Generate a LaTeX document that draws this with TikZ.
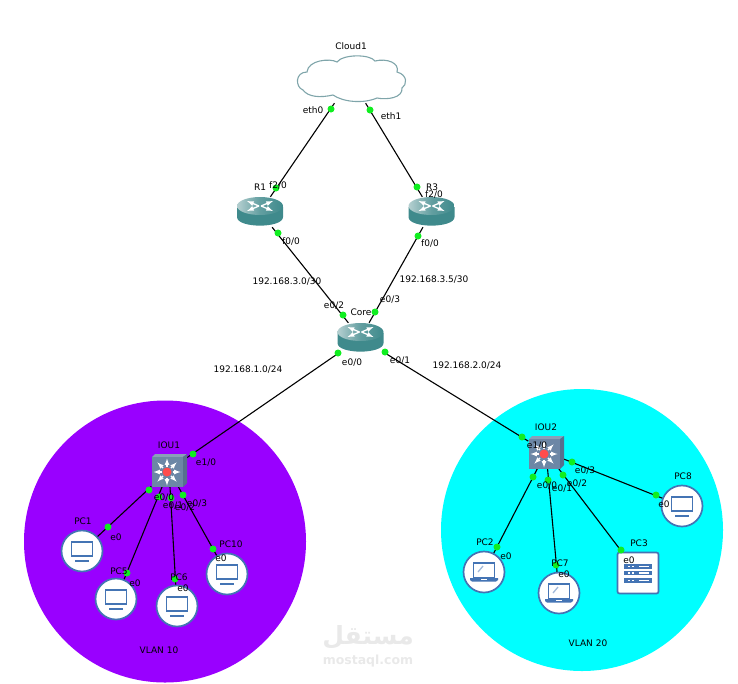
\documentclass[tikz,border=0pt]{standalone}
\usepackage{fontspec}
\usepackage{tikz}
\setmainfont{DejaVu Sans}
\newfontfamily\arabicfont[Script=Arabic]{DejaVu Sans}
\TeXXeTstate=1
\usetikzlibrary{shapes,arrows,positioning}

\definecolor{vlanpurple}{HTML}{9900FF}
\definecolor{vlancyan}{HTML}{00FFFF}
\definecolor{routerteal}{HTML}{3F8A8C}
\definecolor{routerlight}{HTML}{B5CFD0}
\definecolor{cloudline}{HTML}{7FA5AA}
\definecolor{switchblue}{HTML}{6C87A6}
\definecolor{switchdark}{HTML}{56708E}
\definecolor{iconblue}{HTML}{4474B4}
\definecolor{portgreen}{HTML}{10EE20}
\definecolor{markgray}{HTML}{E9E9E9}

\tikzset{
  cloudicon/.pic={
    \draw [cloudline, fill=white, line width=1.1pt] (-44,-7)
      .. controls (-43,-19) and (-21,-21) .. (-14,-17)
      .. controls (-8,-25) and (19,-25) .. (24,-18)
      .. controls (36,-21) and (49,-16) .. (46,-7)
      .. controls (57,-4) and (56,6) .. (51,9)
      .. controls (52,19) and (36,21) .. (26,19)
      .. controls (12,25) and (-8,23) .. (-18,16)
      .. controls (-31,19) and (-43,18) .. (-48,11)
      .. controls (-56,8) and (-56,-7) .. cycle;
  },
  routericon/.pic={
    \fill [routerteal] (-23,-5) -- (-23,5) .. controls (-23,16.5) and (23,16.5) .. (23,5) -- (23,-5) -- cycle;
    \shade [left color=routerlight, right color=routerteal, middle color=routerteal!70!routerlight] (0,-6) ellipse [x radius=23, y radius=9];
    \draw [white, line width=1.3pt, -latex] (-1,-6) -- (-13,-11);
    \draw [white, line width=1.3pt, -latex] (1,-6) -- (13,-1);
    \draw [white, line width=1.3pt, -latex] (-1,-6) -- (-13,-1);
    \draw [white, line width=1.3pt, -latex] (1,-6) -- (13,-11);
  },
  switchicon/.pic={
    \fill [switchblue!80!white] (-17,-13) -- (-14,-16) -- (18,-16) -- (14,-13) -- cycle;
    \fill [switchdark] (14,-13) -- (18,-16) -- (18,13) -- (14,17) -- cycle;
    \fill [switchblue] (-17,-13) rectangle (14,17);
    \foreach \a in {0,45,...,315}
      \draw [white, line width=1.2pt, -latex] (-2,2) ++(\a:5.5) -- ++(\a:8);
    \fill [red!70!white] (-2,2) circle (4.5);
  },
  pcicon/.pic={
    \draw [iconblue, line width=1.2pt] (-10.5,-9) rectangle (10.5,5);
    \draw [iconblue, line width=1.3pt] (-7,10) -- (7,10);
  },
  laptopicon/.pic={
    \draw [iconblue, line width=1.2pt, fill=white] (-10.5,-9) rectangle (10.5,6);
    \draw [iconblue!50!white, line width=1.3pt] (-6,0) -- (-1,-6);
    \fill [iconblue] (-14,6) -- (14,6) -- (14,8) -- (12,9.5) -- (-12,9.5) -- (-14,8) -- cycle;
    \fill [white] (-3,6.5) rectangle (3,7.5);
  },
  servericon/.pic={
    \foreach \y in {-9,-2.4,5} {
      \fill [iconblue] (-14,\y) rectangle (14,\y+4.8);
      \fill [white] (-10,\y+1.6) rectangle (-8,\y+3.2);
      \fill [white] (-6,\y+1.6) rectangle (-4,\y+3.2);
      \fill [white] (1,\y+1.6) rectangle (11,\y+3.2);
    }
  }
}

\begin{document}
\begin{tikzpicture}[x=1pt, y=-1pt, auto]
    % Define block styles
    \tikzstyle{cloudbox} = [rectangle, minimum width=110pt, minimum height=48pt, inner sep=0pt]
    \tikzstyle{routerbox} = [rectangle, minimum width=46pt, minimum height=30pt, inner sep=0pt]
    \tikzstyle{switchbox} = [rectangle, minimum width=35pt, minimum height=33pt, inner sep=0pt]
    \tikzstyle{pcbox} = [circle, draw=iconblue, fill=white, line width=1.7pt, minimum size=41pt, inner sep=0pt]
    \tikzstyle{serverbox} = [rectangle, draw=iconblue, fill=white, line width=1.7pt, rounded corners=2pt, minimum size=41pt, inner sep=0pt]
    \tikzstyle{vlan} = [circle, minimum size=282pt, inner sep=0pt]
    \tikzstyle{link} = [draw, black, line width=1.1pt]
    \tikzstyle{port} = [circle, fill=portgreen, minimum size=7pt, inner sep=0pt]
    \tikzstyle{txt} = [font=\fontsize{9}{10}\selectfont, inner sep=0pt, text=black]

    \useasboundingbox (0,0) rectangle (738,683);

    % VLAN areas
    \node [vlan, fill=vlanpurple] (VLAN_10) at (165,541.5) {};
    \node [vlan, fill=vlancyan] (VLAN_20) at (582,530) {};

    % Watermark
    \node [font=\arabicfont\fontsize{25}{28}\selectfont\bfseries, text=markgray, inner sep=0pt] (Mark_Arabic) at (368,637) {\beginR مستقل\endR};
    \node [font=\fontsize{12.5}{14}\selectfont\bfseries, text=markgray, inner sep=0pt] (Mark_Latin) at (368,661) {mostaql.com};

    % Nodes
    \node [cloudbox] (Cloud1) at (351,79) {};
    \node [routerbox] (R1) at (260,212) {};
    \node [routerbox] (R3) at (431.5,212) {};
    \node [routerbox] (Core) at (360.5,338) {};
    \node [switchbox] (IOU1) at (169,470) {};
    \node [switchbox] (IOU2) at (546,452) {};
    \node [pcbox] (PC1) at (82,551) {};
    \node [pcbox] (PC5) at (116,599) {};
    \node [pcbox] (PC6) at (177,606) {};
    \node [pcbox] (PC10) at (227,574) {};
    \node [pcbox] (PC2) at (484,572) {};
    \node [pcbox] (PC7) at (559,593) {};
    \node [pcbox] (PC8) at (682,506) {};
    \node [serverbox] (PC3) at (638,573) {};

    % Lines
    \path [link] (Cloud1) -- (R1);
    \path [link] (Cloud1) -- (R3);
    \path [link] (R1) -- (Core);
    \path [link] (R3) -- (Core);
    \path [link] (Core) -- (IOU1);
    \path [link] (Core) -- (IOU2);
    \path [link] (IOU1) -- (PC1);
    \path [link] (IOU1) -- (PC5);
    \path [link] (IOU1) -- (PC6);
    \path [link] (IOU1) -- (PC10);
    \path [link] (IOU2) -- (PC2);
    \path [link] (IOU2) -- (PC7);
    \path [link] (IOU2) -- (PC3);
    \path [link] (IOU2) -- (PC8);

    % Icons
    \pic at (Cloud1) {cloudicon};
    \pic at (R1) {routericon};
    \pic at (R3) {routericon};
    \pic at (Core) {routericon};
    \pic at (IOU1) {switchicon};
    \pic at (IOU2) {switchicon};
    \pic at (PC1) {pcicon};
    \pic at (PC5) {pcicon};
    \pic at (PC6) {pcicon};
    \pic at (PC10) {pcicon};
    \pic at (PC8) {pcicon};
    \pic at (PC2) {laptopicon};
    \pic at (PC7) {laptopicon};
    \pic at (PC3) {servericon};

    % Ports
    \node [port] (Cloud_eth0) at (331,109) {};
    \node [port] (Cloud_eth1) at (370,110) {};
    \node [port] (R1_f2) at (276,188) {};
    \node [port] (R1_f0) at (278,233) {};
    \node [port] (R3_f2) at (417,187) {};
    \node [port] (R3_f0) at (418,236) {};
    \node [port] (Core_e2) at (343,315) {};
    \node [port] (Core_e3) at (375,312) {};
    \node [port] (Core_e0) at (338,353) {};
    \node [port] (Core_e1) at (385,352) {};
    \node [port] (IOU1_e10) at (193,454) {};
    \node [port] (IOU1_e0) at (149,490) {};
    \node [port] (IOU1_e2) at (159,497) {};
    \node [port] (IOU1_e1) at (171,498) {};
    \node [port] (IOU1_e3) at (183,495) {};
    \node [port] (PC1_e0) at (108,527) {};
    \node [port] (PC5_e0) at (127,573) {};
    \node [port] (PC6_e0) at (175,579) {};
    \node [port] (PC10_e0) at (213,549) {};
    \node [port] (IOU2_e10) at (522,437) {};
    \node [port] (IOU2_e0) at (533,477) {};
    \node [port] (IOU2_e1) at (548,480) {};
    \node [port] (IOU2_e2) at (563,475) {};
    \node [port] (IOU2_e3) at (572,462) {};
    \node [port] (PC2_e0) at (497,547) {};
    \node [port] (PC7_e0) at (556,565) {};
    \node [port] (PC3_e0) at (621,550) {};
    \node [port] (PC8_e0) at (656,495) {};

    % Device names
    \node [txt] (Cloud1_name) at (351,46) {Cloud1};
    \node [txt] (R1_name) at (260,187) {R1};
    \node [txt] (R3_name) at (432,187) {R3};
    \node [txt] (Core_name) at (361,312.5) {Core};
    \node [txt] (IOU1_name) at (169,445) {IOU1};
    \node [txt] (IOU2_name) at (546,427) {IOU2};
    \node [txt] (PC1_name) at (83,521) {PC1};
    \node [txt] (PC5_name) at (119,571) {PC5};
    \node [txt] (PC6_name) at (179,577) {PC6};
    \node [txt] (PC10_name) at (231,544) {PC10};
    \node [txt] (PC2_name) at (485,542) {PC2};
    \node [txt] (PC7_name) at (560,563) {PC7};
    \node [txt] (PC3_name) at (639,543) {PC3};
    \node [txt] (PC8_name) at (683,476) {PC8};
    \node [txt] (VLAN_10_name) at (159,650) {VLAN 10};
    \node [txt] (VLAN_20_name) at (588,643) {VLAN 20};

    % Subnets
    \node [txt] (Net_30a) at (287,282) {192.168.3.0/30};
    \node [txt] (Net_30b) at (434,280) {192.168.3.5/30};
    \node [txt] (Net_24a) at (248,370) {192.168.1.0/24};
    \node [txt] (Net_24b) at (467,366) {192.168.2.0/24};

    % Port names
    \node [txt] (Cloud_eth0_name) at (313,110) {eth0};
    \node [txt] (Cloud_eth1_name) at (391,116) {eth1};
    \node [txt] (R1_f2_name) at (278,185) {f2/0};
    \node [txt] (R1_f0_name) at (291,241) {f0/0};
    \node [txt] (R3_f2_name) at (434,194) {f2/0};
    \node [txt] (R3_f0_name) at (430,243) {f0/0};
    \node [txt] (Core_e2_name) at (334,306) {e0/2};
    \node [txt] (Core_e3_name) at (390,300) {e0/3};
    \node [txt] (Core_e0_name) at (352,363) {e0/0};
    \node [txt] (Core_e1_name) at (400,361) {e0/1};
    \node [txt] (IOU1_e10_name) at (206,463) {e1/0};
    \node [txt] (IOU1_e0_name) at (164,498) {e0/0};
    \node [txt] (IOU1_e1_name) at (173,506) {e0/1};
    \node [txt] (IOU1_e2_name) at (185,508) {e0/2};
    \node [txt] (IOU1_e3_name) at (197,504) {e0/3};
    \node [txt] (PC1_e0_name) at (116,537) {e0};
    \node [txt] (PC5_e0_name) at (135,583) {e0};
    \node [txt] (PC6_e0_name) at (183,588) {e0};
    \node [txt] (PC10_e0_name) at (221,558) {e0};
    \node [txt] (IOU2_e10_name) at (537,446) {e1/0};
    \node [txt] (IOU2_e0_name) at (547,486) {e0/0};
    \node [txt] (IOU2_e1_name) at (562,489) {e0/1};
    \node [txt] (IOU2_e2_name) at (577,484) {e0/2};
    \node [txt] (IOU2_e3_name) at (585,471) {e0/3};
    \node [txt] (PC2_e0_name) at (506,556) {e0};
    \node [txt] (PC7_e0_name) at (564,574) {e0};
    \node [txt] (PC3_e0_name) at (629,560) {e0};
    \node [txt] (PC8_e0_name) at (664,504) {e0};
\end{tikzpicture}
\end{document}
